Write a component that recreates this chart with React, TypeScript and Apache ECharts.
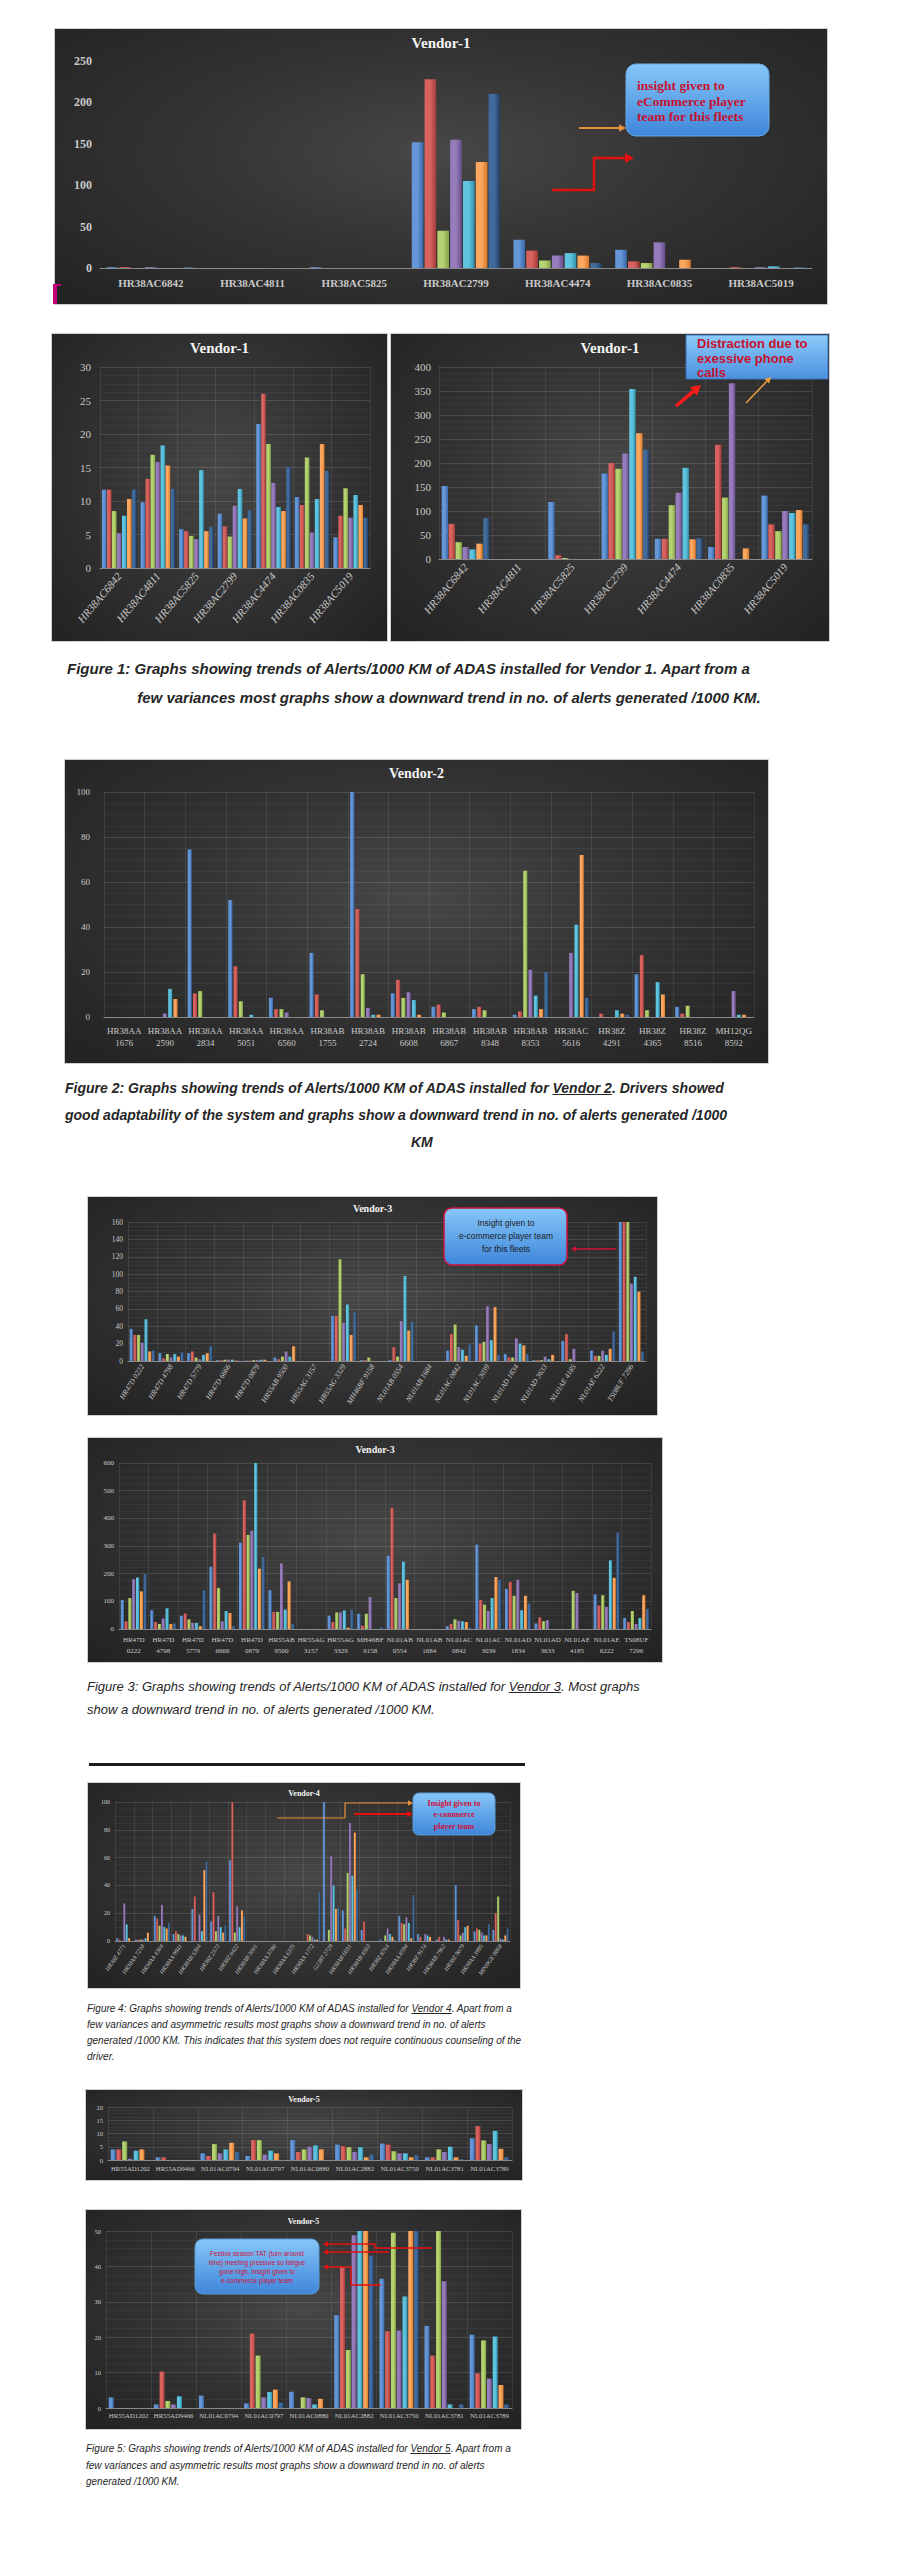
import React, { useEffect, useLayoutEffect, useRef, useState } from 'react';
import * as echarts from 'echarts';

// ---------------- DATA ----------------
const SERIES_NAMES = ['S1', 'S2', 'S3', 'S4', 'S5', 'S6', 'S7'];

// Vendor-1 (figure 1)
const V1_CATS = ['HR38AC6842', 'HR38AC4811', 'HR38AC5825', 'HR38AC2799', 'HR38AC4474', 'HR38AC0835', 'HR38AC5019'];
const V1_MAIN = [
  [1, 1, 0, 1, 0, 0, 1],
  [0, 0, 0, 0, 0, 0, 0],
  [1, 0, 0, 0, 0, 0, 0],
  [152, 228, 45, 155, 105, 128, 210],
  [34, 21, 9, 15, 18, 15, 6],
  [22, 8, 6, 31, 0, 10, 0],
  [0, 1, 0, 1, 2, 0, 1],
];
const V1_LEFT = [
  [11.7, 11.7, 8.5, 5.2, 7.8, 10.3, 11.7],
  [9.8, 13.3, 16.9, 15.8, 18.3, 15.3, 11.8],
  [5.8, 5.5, 4.8, 4.3, 14.6, 5.5, 6.1],
  [8.1, 6.2, 4.7, 9.3, 11.8, 7.4, 8.6],
  [21.5, 26, 18.5, 12.7, 9.1, 8.5, 15.1],
  [10.6, 9.4, 16.5, 5.3, 10.3, 18.5, 14.5],
  [4.6, 7.8, 11.9, 7.5, 10.9, 9.4, 7.5],
];
const V1_RIGHT = [
  [152, 73, 35, 25, 20, 32, 85],
  [0, 0, 0, 0, 0, 0, 0],
  [119, 8, 2, 0, 0, 0, 0],
  [178, 200, 188, 220, 354, 262, 228],
  [42, 42, 112, 138, 190, 41, 43],
  [25, 238, 128, 366, 0, 22, 0],
  [132, 72, 58, 100, 96, 102, 72],
];

// Vendor-2 (figure 2)
const V2_CATS = ['HR38AA 1676', 'HR38AA 2590', 'HR38AA 2834', 'HR38AA 5051', 'HR38AA 6560', 'HR38AB 1755', 'HR38AB 2724', 'HR38AB 6608',
  'HR38AB 6867', 'HR38AB 8348', 'HR38AB 8353', 'HR38AC 5616', 'HR38Z 4291', 'HR38Z 4365', 'HR38Z 8516', 'MH12QG 8592'];
const V2_VALUES = [
  [0, 0, 0, 0, 0, 0, 0],
  [0, 0, 0, 1.5, 12.5, 8, 0],
  [74.5, 10.5, 11.5, 0, 0, 0, 0],
  [52, 22.5, 7, 0, 1, 0, 0],
  [8.5, 3.5, 3.5, 2, 0, 0, 0],
  [28.5, 10, 3, 0, 0, 0, 0],
  [100, 48, 19, 4, 1, 1, 0],
  [10.5, 16.5, 8.5, 11, 7.5, 1, 0],
  [4.5, 5.5, 2, 0, 0, 0, 0],
  [3.5, 4.5, 3, 0, 0, 0, 0],
  [1, 2.5, 65, 21, 9.5, 3.5, 20],
  [0, 0, 0, 28.5, 41, 72, 8.5],
  [0, 1.5, 0, 0, 3, 1.5, 1],
  [19, 27.5, 3, 0, 15.5, 10, 0],
  [4.5, 1.5, 5, 0, 0, 0, 0],
  [0, 0, 0, 11.5, 1, 1, 0],
];

// Vendor-3 (figure 3)
const V3_CATS = ['HR47D 0222', 'HR47D 4798', 'HR47D 5779', 'HR47D 6666', 'HR47D 0879', 'HR55AB 9500', 'HR55AG 3157', 'HR55AG 3329',
  'MH46BF 9158', 'NL01AB 0554', 'NL01AB 1684', 'NL01AC 0842', 'NL01AC 3039', 'NL01AD 1834', 'NL01AD 3633', 'NL01AE 4185',
  'NL01AE 6222', 'TS08UF 7296'];
const V3A_VALUES = [
  [37, 30, 30, 21, 48, 11, 12],
  [9, 3, 8, 4, 8, 5, 10],
  [9, 11, 4, 2, 7, 9, 17],
  [1, 1, 1.5, 1.5, 1.5, 0.5, 0.5],
  [0.5, 0.5, 1, 1, 1.5, 1.5, 0],
  [4, 2, 5, 11, 5, 17, 0],
  [0, 0, 0, 0, 0, 0, 0],
  [52, 52, 117, 44, 65, 30, 56],
  [1, 1, 4, 0, 0, 0, 0],
  [1, 16, 5, 46, 98, 35, 45],
  [0, 0, 0, 0, 0, 0, 0],
  [12, 31, 42, 16, 13, 6, 19],
  [41, 20, 22, 63, 24, 62, 7],
  [8, 4, 4, 26, 20, 18, 8],
  [1, 1, 1, 5, 2, 7, 0],
  [23, 31, 2, 14, 0, 0, 0],
  [12, 6, 6, 12, 7, 14, 34],
  [160, 160, 160, 89, 97, 80, 11],
];
const V3B_VALUES = [
  [105, 28, 112, 180, 186, 136, 198],
  [68, 25, 18, 38, 75, 18, 20],
  [48, 56, 35, 22, 22, 10, 140],
  [225, 345, 148, 28, 65, 58, 10],
  [312, 465, 340, 355, 600, 218, 260],
  [140, 62, 62, 237, 70, 172, 18],
  [0, 0, 0, 0, 0, 0, 0],
  [48, 25, 60, 60, 67, 5, 70],
  [55, 12, 55, 115, 0, 0, 5],
  [265, 438, 112, 165, 243, 178, 0],
  [0, 0, 0, 0, 0, 0, 0],
  [10, 18, 35, 30, 28, 25, 5],
  [305, 105, 88, 65, 112, 188, 178],
  [145, 170, 120, 178, 68, 120, 92],
  [20, 42, 28, 32, 0, 0, 0],
  [0, 0, 138, 130, 0, 0, 0],
  [125, 85, 122, 80, 248, 185, 348],
  [40, 25, 65, 18, 40, 122, 72],
];

// Vendor-4 (figure 4)
const V4_CATS = ['HR38Z 4771', 'HR38AA 7218', 'HR38AA 4304', 'HR38AA 9941', 'HR38AB 6304', 'HR38Z 2573', 'HR38Z 0422', 'HR38AB 3601',
  'HR38AA 3780', 'HR38AA 6375', 'HR38AA 1772', 'GJ38T 2729', 'HR38AB 6031', 'HR38AB 4503', 'HR38Z 8764', 'HR38AA 8594',
  'HR38Z 9174', 'HR38AB 7962', 'HR38Z 9079', 'HR38AA 3995', 'MP09GE 8868'];
const V4_VALUES = [
  [2, 1, 0, 27, 12, 2, 0],
  [1, 1, 1, 1, 2, 6, 0],
  [18, 16, 11, 26, 10, 9, 13],
  [5, 7, 5, 4, 4, 3, 0],
  [23, 32, 0, 19, 7, 51, 57],
  [14, 35, 7, 18, 10, 6, 11],
  [58, 100, 6, 25, 10, 22, 18],
  [0, 0, 0, 0, 0, 0, 0],
  [0, 0, 0, 0, 0, 0, 0],
  [0, 0, 0, 0, 0, 0, 0],
  [0, 5, 4, 3, 1, 1, 35],
  [100, 0, 8, 61, 40, 23, 24],
  [22, 9, 49, 85, 47, 78, 37],
  [8, 14, 0, 0, 0, 0, 0],
  [1, 0, 4, 9, 5, 3, 1],
  [18, 13, 12, 17, 13, 2, 33],
  [5, 3, 0, 5, 4, 3, 0],
  [1, 3, 0, 3, 1, 1, 0],
  [40, 15, 4, 6, 10, 11, 0],
  [7, 9, 8, 6, 4, 4, 12],
  [8, 20, 32, 2, 1, 4, 9],
];

// Vendor-5 (figure 5)
const V5_CATS = ['HR55AD1202', 'HR55AD9466', 'NL01AC0794', 'NL01AC0797', 'NL01AC0880', 'NL01AC2882', 'NL01AC3750', 'NL01AC3781', 'NL01AC3789'];
const V5A_VALUES = [
  [4, 4, 7, 0.5, 3.5, 4, 0],
  [1, 1, 0, 0, 0, 0, 0],
  [2.5, 1.5, 6, 2.5, 4, 6.5, 3],
  [1.5, 7.5, 7.5, 2, 3.5, 2.5, 0],
  [7.5, 3, 4, 5, 5.5, 4, 0],
  [5.8, 5.2, 4.8, 3, 4.8, 1, 2],
  [6.2, 5.8, 3.3, 2.5, 2.5, 1, 1.8],
  [1, 1, 4, 3, 5, 1, 0.3],
  [8.2, 12.8, 7.4, 6, 11, 4.2, 1],
];
const V5B_VALUES = [
  [3, 0, 0, 0, 0, 0, 0],
  [1, 10.3, 2, 1, 3.3, 0, 0],
  [3.5, 0, 0, 0, 0, 0, 0],
  [1.3, 21, 14.8, 3, 4.5, 5.2, 1.5],
  [4.6, 0, 3, 2.8, 1, 2.6, 0],
  [26.2, 39.8, 16.4, 48.8, 50, 50, 43],
  [36.5, 21.7, 49.5, 21.9, 31.5, 50, 50],
  [23.2, 14.8, 50, 35.8, 1, 0, 1],
  [20.7, 9.8, 19.1, 8.3, 20.2, 6.5, 1],
];

// ---------------- STYLE ----------------
const SERIF = "'Liberation Serif', 'DejaVu Serif', serif";
const SANS = "'Liberation Sans', Arial, sans-serif";
const BAR_COLORS = [
  ['#6496d8', '#3a68a8'],
  ['#d8625e', '#a23b38'],
  ['#b4d270', '#82a243'],
  ['#977cbc', '#664d89'],
  ['#5ec4e0', '#3290a9'],
  ['#fca760', '#d77828'],
  ['#416b9c', '#213b5e'],
];
const CHART_BG = 'radial-gradient(ellipse at 50% 45%, #474747 0%, #343434 45%, #222222 100%)';

function barFill(i: number) {
  const [l, d] = BAR_COLORS[i];
  return new echarts.graphic.LinearGradient(0, 0, 1, 0, [
    { offset: 0, color: l },
    { offset: 0.5, color: l },
    { offset: 1, color: d },
  ]);
}

function arrow(points: number[][], color: string, width: number, head: number) {
  const n = points.length;
  const [x1, y1] = points[n - 2];
  const [x2, y2] = points[n - 1];
  const a = Math.atan2(y2 - y1, x2 - x1);
  const bx = x2 - head * Math.cos(a);
  const by = y2 - head * Math.sin(a);
  const hw = head * 0.55;
  const left = [bx + hw * Math.sin(a), by - hw * Math.cos(a)];
  const right = [bx - hw * Math.sin(a), by + hw * Math.cos(a)];
  return [
    { type: 'polyline', silent: true, z: 100, shape: { points: [...points.slice(0, n - 1), [bx, by]] }, style: { stroke: color, lineWidth: width, fill: null } },
    { type: 'polygon', silent: true, z: 100, shape: { points: [[x2, y2], left, right] }, style: { fill: color } },
  ];
}

function noteBox(x: number, y: number, w: number, h: number, r: number, stroke: string, sw: number) {
  return {
    type: 'rect', silent: true, z: 99,
    shape: { x, y, width: w, height: h, r },
    style: {
      fill: new echarts.graphic.LinearGradient(0, 0, 0, 1, [
        { offset: 0, color: '#86c6f8' },
        { offset: 1, color: '#3f86da' },
      ]),
      stroke, lineWidth: sw,
    },
  };
}

function noteText(text: string, x: number, y: number, color: string, size: number, family: string, weight: string, align: string) {
  return {
    type: 'text', silent: true, z: 101, x, y,
    style: {
      text, fill: color, fontSize: size, fontFamily: family, fontWeight: weight,
      align, verticalAlign: 'middle', textAlign: align, textVerticalAlign: 'middle',
    },
  };
}

type Cfg = {
  title: string; titleSize: number; titleTop: number;
  cats: string[]; rows: number[][];
  max: number; interval: number;
  grid: number[]; // top, right, bottom, left
  xFont: number; yFont: number; xRotate?: number; twoLine?: boolean; italic?: boolean; bold?: boolean;
  xMargin: number; yMargin: number; lineHeight?: number;
  gridLines: boolean; barGap: string; catGap: string;
  graphic?: any[];
};

function makeOption(c: Cfg) {
  const series = SERIES_NAMES.map((name, s) => ({
    name, type: 'bar',
    data: c.rows.map((r) => r[s]),
    barGap: c.barGap, barCategoryGap: c.catGap,
    itemStyle: { color: barFill(s) },
    emphasis: { disabled: true },
  }));
  const xLabel: any = {
    interval: 0, rotate: c.xRotate || 0, margin: c.xMargin,
    color: '#c9c9c9', fontFamily: SERIF, fontSize: c.xFont,
    fontStyle: c.italic ? 'italic' : 'normal', fontWeight: c.bold ? 'bold' : 'normal',
  };
  if (c.lineHeight) xLabel.lineHeight = c.lineHeight;
  if (c.twoLine) xLabel.formatter = (v: string) => v.replace(' ', '\n');
  return {
    animation: false,
    backgroundColor: 'transparent',
    title: {
      text: c.title, left: 'center', top: c.titleTop,
      textStyle: { color: '#f4f4f4', fontFamily: SERIF, fontWeight: 'bold', fontSize: c.titleSize },
    },
    grid: { top: c.grid[0], right: c.grid[1], bottom: c.grid[2], left: c.grid[3], containLabel: false },
    xAxis: {
      type: 'category', data: c.cats,
      axisLine: { show: true, lineStyle: { color: '#8a8a8a', width: 1 } },
      axisTick: { show: false },
      splitLine: { show: c.gridLines, lineStyle: { color: 'rgba(255,255,255,0.08)' } },
      axisLabel: xLabel,
    },
    yAxis: {
      type: 'value', min: 0, max: c.max, interval: c.interval,
      axisLine: { show: false }, axisTick: { show: false },
      axisLabel: { color: '#c9c9c9', fontFamily: SERIF, fontSize: c.yFont, margin: c.yMargin, fontWeight: c.bold ? 'bold' : 'normal' },
      splitLine: { show: c.gridLines, lineStyle: { color: 'rgba(255,255,255,0.13)' } },
      minorTick: { show: false, splitNumber: 4 },
      minorSplitLine: { show: c.gridLines, lineStyle: { color: 'rgba(255,255,255,0.045)' } },
    },
    series,
    graphic: c.graphic || [],
  };
}

function BarChart({ box, cfg }: { box: number[]; cfg: Cfg }) {
  const ref = useRef<HTMLDivElement>(null);
  useEffect(() => {
    const chart = echarts.init(ref.current as HTMLDivElement, undefined, { renderer: 'svg' });
    chart.setOption(makeOption(cfg) as any);
    return () => chart.dispose();
  }, []);
  return (
    <div
      ref={ref}
      style={{
        position: 'absolute', left: box[0], top: box[1], width: box[2], height: box[3],
        background: CHART_BG, boxShadow: '0 0 0 1px #cfcfcf',
      }}
    />
  );
}

// ---------------- CAPTIONS ----------------
function Line({ left, top, width, size, bold, lh, justify, center, children }: any) {
  const ref = useRef<HTMLSpanElement>(null);
  const [ws, setWs] = useState(0);
  useLayoutEffect(() => {
    const run = () => {
      const el = ref.current;
      if (!el || !justify) return;
      el.style.wordSpacing = '0px';
      const w = el.getBoundingClientRect().width;
      const n = (el.textContent || '').split(' ').length - 1;
      if (n > 0) setWs((width - w) / n);
      el.style.wordSpacing = '';
    };
    run();
    const f = (document as any).fonts;
    if (f && f.ready) f.ready.then(run);
  }, []);
  return (
    <div
      style={{
        position: 'absolute', left: center ? 0 : left, top: top - lh / 2, width: center ? 898 : undefined,
        textAlign: center ? 'center' : 'left', whiteSpace: 'nowrap', lineHeight: lh + 'px',
        fontFamily: SANS, fontSize: size, fontStyle: 'italic', fontWeight: bold ? 'bold' : 'normal', color: '#262626',
      }}
    >
      <span ref={ref} style={{ wordSpacing: justify ? ws : 0 }}>{children}</span>
    </div>
  );
}

// ---------------- CHART CONFIGS ----------------
const cfgV1Main: Cfg = {
  title: 'Vendor-1', titleSize: 15, titleTop: 1, cats: V1_CATS, rows: V1_MAIN, max: 250, interval: 50,
  grid: [32, 15, 36, 45], xFont: 11, yFont: 12, bold: true, xMargin: 9, yMargin: 8,
  gridLines: false, barGap: '10%', catGap: '13%',
  graphic: [
    noteBox(571, 35, 143, 72, 10, '#6aaae8', 1),
    noteText('insight given to', 582, 56, '#c8102e', 13.5, SERIF, 'bold', 'left'),
    noteText('eCommerce player', 582, 72, '#c8102e', 13.5, SERIF, 'bold', 'left'),
    noteText('team for this fleets', 582, 87, '#c8102e', 13.5, SERIF, 'bold', 'left'),
    ...arrow([[524, 99], [571, 99]], '#e8903a', 2, 7),
    ...arrow([[497, 161], [539, 161], [539, 129], [579, 129]], '#e31010', 2.5, 9),
  ],
};

const cfgV1Left: Cfg = {
  title: 'Vendor-1', titleSize: 15, titleTop: 1, cats: V1_CATS, rows: V1_LEFT, max: 30, interval: 5,
  grid: [33, 17, 73, 48], xFont: 11, yFont: 11, xRotate: 50, italic: true, xMargin: 6, yMargin: 9,
  gridLines: true, barGap: '8%', catGap: '10%',
};

const cfgV1Right: Cfg = {
  title: 'Vendor-1', titleSize: 15, titleTop: 1, cats: V1_CATS, rows: V1_RIGHT, max: 400, interval: 50,
  grid: [33, 17, 82, 48], xFont: 11, yFont: 11, xRotate: 50, italic: true, xMargin: 6, yMargin: 8,
  gridLines: true, barGap: '8%', catGap: '10%',
  graphic: [
    {
      type: 'rect', silent: true, z: 99, shape: { x: 295, y: 1, width: 142, height: 44 },
      style: {
        fill: new echarts.graphic.LinearGradient(0, 0, 0, 1, [
          { offset: 0, color: '#8ccbf9' }, { offset: 1, color: '#4b90e0' },
        ]),
        stroke: '#3f6fb0', lineWidth: 1,
      },
    },
    noteText('Distraction due to', 306, 9, '#c8102e', 13, SANS, 'bold', 'left'),
    noteText('exessive phone', 306, 24, '#c8102e', 13, SANS, 'bold', 'left'),
    noteText('calls', 306, 38, '#c8102e', 13, SANS, 'bold', 'left'),
    ...arrow([[285, 72], [310, 51]], '#ff1a1a', 3.5, 10),
    ...arrow([[355, 69], [380, 43]], '#f0a040', 1.5, 6),
  ],
};

const cfgV2: Cfg = {
  title: 'Vendor-2', titleSize: 14, titleTop: 1, cats: V2_CATS, rows: V2_VALUES, max: 100, interval: 20,
  grid: [32, 14, 46, 39], xFont: 9, yFont: 9, twoLine: true, lineHeight: 12, xMargin: 8, yMargin: 14,
  gridLines: true, barGap: '30%', catGap: '12%',
};

const cfgV3a: Cfg = {
  title: 'Vendor-3', titleSize: 10, titleTop: 1, cats: V3_CATS, rows: V3A_VALUES, max: 160, interval: 20,
  grid: [25, 11, 54, 40], xFont: 7.5, yFont: 7.5, xRotate: 58, italic: true, xMargin: 4, yMargin: 5,
  gridLines: true, barGap: '20%', catGap: '12%',
  graphic: [
    noteBox(356, 11, 123, 57, 8, '#d0103a', 1.5),
    noteText('Insight given to', 418, 26, '#1c1c1c', 8.5, SANS, 'normal', 'center'),
    noteText('e-commerce player team', 418, 39, '#1c1c1c', 8.5, SANS, 'normal', 'center'),
    noteText('for this fleets', 418, 52, '#1c1c1c', 8.5, SANS, 'normal', 'center'),
    ...arrow([[528, 52], [483, 52]], '#d0103a', 1.5, 5),
  ],
};

const cfgV3b: Cfg = {
  title: 'Vendor-3', titleSize: 10, titleTop: 1, cats: V3_CATS, rows: V3B_VALUES, max: 600, interval: 100,
  grid: [25, 11, 33, 31], xFont: 7, yFont: 7, twoLine: true, lineHeight: 11, xMargin: 5, yMargin: 5,
  gridLines: true, barGap: '20%', catGap: '12%',
};

const cfgV4: Cfg = {
  title: 'Vendor-4', titleSize: 8, titleTop: 1, cats: V4_CATS, rows: V4_VALUES, max: 100, interval: 20,
  grid: [19, 10, 47, 27], xFont: 6, yFont: 6, xRotate: 55, italic: true, xMargin: 4, yMargin: 5,
  gridLines: true, barGap: '15%', catGap: '13%',
  graphic: [
    noteBox(325, 10, 82, 42, 6, '#5b9bd5', 1),
    noteText('Insight given to', 366, 20, '#d0103a', 8, SERIF, 'bold', 'center'),
    noteText('e-commerce', 366, 31, '#d0103a', 8, SERIF, 'bold', 'center'),
    noteText('player team', 366, 43, '#d0103a', 8, SERIF, 'bold', 'center'),
    ...arrow([[189, 35], [257, 35], [257, 20], [325, 20]], '#e8903a', 1.2, 5),
    ...arrow([[266, 31], [325, 31]], '#e31010', 2, 6),
  ],
};

const cfgV5a: Cfg = {
  title: 'Vendor-5', titleSize: 8, titleTop: 0, cats: V5_CATS, rows: V5A_VALUES, max: 20, interval: 5,
  grid: [17, 10, 20, 22], xFont: 6.7, yFont: 6.5, xMargin: 5, yMargin: 5,
  gridLines: true, barGap: '15%', catGap: '12%',
};

const cfgV5b: Cfg = {
  title: 'Vendor-5', titleSize: 8, titleTop: 2, cats: V5_CATS, rows: V5B_VALUES, max: 50, interval: 10,
  grid: [21, 9, 21, 20], xFont: 6.8, yFont: 6.5, xMargin: 4, yMargin: 5,
  gridLines: true, barGap: '15%', catGap: '12%',
  graphic: [
    noteBox(109, 29, 124, 55, 8, '#5b9bd5', 1),
    noteText('Festive season TAT (turn around', 171, 43, '#d0103a', 6.5, SANS, 'normal', 'center'),
    noteText('time) meeting pressure so fatigue', 171, 52, '#d0103a', 6.5, SANS, 'normal', 'center'),
    noteText('gone high. Insight given to', 171, 61, '#d0103a', 6.5, SANS, 'normal', 'center'),
    noteText('e-commerce player team', 171, 70, '#d0103a', 6.5, SANS, 'normal', 'center'),
    ...arrow([[346, 38], [289, 38], [289, 34], [237, 34]], '#e31010', 1.5, 5),
    ...arrow([[303, 42], [237, 42]], '#e31010', 1.5, 5),
    ...arrow([[295, 75], [265, 75], [265, 57], [237, 57]], '#e31010', 1.5, 5),
  ],
};

// ---------------- APP ----------------
export default function App() {
  return (
    <div style={{ position: 'absolute', left: 0, top: 0, width: 902, height: 2560, background: '#ffffff', overflow: 'hidden' }}>
      <BarChart box={[55, 29, 772, 275]} cfg={cfgV1Main} />
      <div style={{ position: 'absolute', left: 53, top: 285, width: 4, height: 19, background: '#c2007a' }} />
      <div style={{ position: 'absolute', left: 53, top: 284, width: 8, height: 1.5, background: '#c2007a' }} />

      <BarChart box={[52, 334, 335, 307]} cfg={cfgV1Left} />
      <BarChart box={[391, 334, 438, 307]} cfg={cfgV1Right} />

      <Line left={67} top={669} width={765} size={15} bold lh={22} justify>
        Figure 1: Graphs showing trends of Alerts/1000 KM of ADAS installed for Vendor 1. Apart from a
      </Line>
      <Line top={698} size={15} bold lh={22} center>
        few variances most graphs show a downward trend in no. of alerts generated /1000 KM.
      </Line>

      <BarChart box={[65, 760, 703, 303]} cfg={cfgV2} />

      <Line left={65} top={1088} width={715} size={14} bold lh={22} justify>
        Figure 2: Graphs showing trends of Alerts/1000 KM of ADAS installed for <u>Vendor 2</u>. Drivers showed
      </Line>
      <Line left={65} top={1115} width={715} size={14} bold lh={22} justify>
        good adaptability of the system and graphs show a downward trend in no. of alerts generated /1000
      </Line>
      <Line left={411} top={1142} size={14} bold lh={20}>
        KM
      </Line>

      <BarChart box={[88, 1197, 569, 218]} cfg={cfgV3a} />
      <BarChart box={[88, 1438, 574, 224]} cfg={cfgV3b} />

      <Line left={87} top={1687} width={614} size={13} lh={20} justify>
        Figure 3: Graphs showing trends of Alerts/1000 KM of ADAS installed for <u>Vendor 3</u>. Most graphs
      </Line>
      <Line left={87} top={1710} size={13} lh={20}>
        show a downward trend in no. of alerts generated /1000 KM.
      </Line>

      <div style={{ position: 'absolute', left: 89, top: 1763, width: 436, height: 3, background: '#1c1c1c' }} />

      <BarChart box={[88, 1783, 432, 205]} cfg={cfgV4} />

      <Line left={87} top={2009} width={443} size={10} lh={16} justify>
        Figure 4: Graphs showing trends of Alerts/1000 KM of ADAS installed for <u>Vendor 4</u>. Apart from a
      </Line>
      <Line left={87} top={2025} width={443} size={10} lh={16} justify>
        few variances and asymmetric results most graphs show a downward trend in no. of alerts
      </Line>
      <Line left={87} top={2041} width={443} size={10} lh={16} justify>
        generated /1000 KM. This indicates that this system does not require continuous counseling of the
      </Line>
      <Line left={87} top={2057} size={10} lh={16}>
        driver.
      </Line>

      <BarChart box={[86, 2090, 436, 90]} cfg={cfgV5a} />
      <BarChart box={[86, 2210, 435, 219]} cfg={cfgV5b} />

      <Line left={86} top={2449} width={442} size={10} lh={16} justify>
        Figure 5: Graphs showing trends of Alerts/1000 KM of ADAS installed for <u>Vendor 5</u>.  Apart from a
      </Line>
      <Line left={86} top={2466} width={442} size={10} lh={16} justify>
        few variances and asymmetric results most graphs show a downward trend in no. of alerts
      </Line>
      <Line left={86} top={2482} size={10} lh={16}>
        generated /1000 KM.
      </Line>
    </div>
  );
}
